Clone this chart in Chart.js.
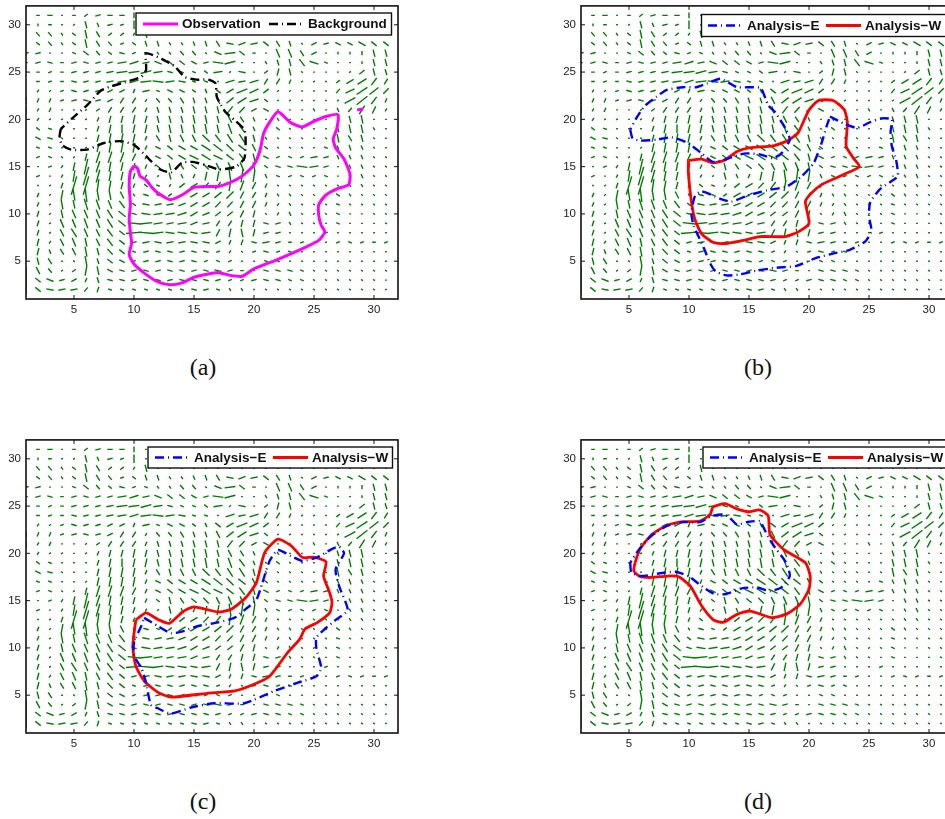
<!DOCTYPE html>
<html>
<head>
<meta charset="utf-8">
<script src="https://cdn.jsdelivr.net/npm/chart.js@4"></script>
<style>
  html, body { margin: 0; padding: 0; background: #fff; overflow: hidden; width: 945px; height: 819px; }
  canvas { position: absolute; }
  .cap { position: absolute; width: 60px; text-align: center; font: 24px "Liberation Serif", serif; color: #111; }
</style>
</head>
<body>
<canvas id="panelA" width="410" height="332" style="left:0;top:-6px"></canvas>
<canvas id="panelB" width="410" height="332" style="left:555px;top:-6px"></canvas>
<canvas id="panelC" width="410" height="332" style="left:0;top:428px"></canvas>
<canvas id="panelD" width="410" height="332" style="left:555px;top:428px"></canvas>
<div class="cap" style="left:173px;top:354px">(a)</div>
<div class="cap" style="left:728px;top:354px">(b)</div>
<div class="cap" style="left:173px;top:788px">(c)</div>
<div class="cap" style="left:728px;top:788px">(d)</div>
<script>
const tickValues = [5, 10, 15, 20, 25, 30];
const gridX = [1,2,3,4,5,6,7,8,9,10,11,12,13,14,15,16,17,18,19,20,21,22,23,24,25,26,27,28,29,30,31];
const gridY = [31,30,29,28,27,26,25,24,23,22,21,20,19,18,17,16,15,14,13,12,11,10,9,8,7,6,5,4,3,2];

// wind components, tenths of a grid cell, one row per gridY
const windU = [
  [0,2,3,1,2,2,3,3,3,0,1,1,1,1,1,1,1,1,1,1,1,1,1,1,1,1,1,1,1,1,1],
  [0,0,2,1,1,1,1,3,2,0,1,1,1,1,1,1,1,1,1,1,1,1,1,1,1,1,1,1,1,1,1],
  [0,2,2,1,2,1,2,2,2,1,1,1,1,1,1,1,1,1,1,1,1,1,1,1,1,1,1,1,1,1,1],
  [0,2,2,1,2,1,2,2,2,2,1,1,1,1,1,1,2,4,4,4,3,2,1,1,3,3,3,3,4,3,3],
  [3,3,1,1,2,3,2,2,3,2,2,1,1,2,2,1,4,6,3,2,1,2,2,2,3,1,0,0,0,1,1],
  [2,3,3,2,3,3,3,3,5,5,4,4,3,3,3,3,6,6,1,1,1,1,1,3,5,2,1,1,0,1,1],
  [1,2,2,2,3,3,3,4,6,6,6,5,3,2,2,2,5,1,4,1,2,1,1,1,1,1,1,1,3,1,1],
  [0,2,2,2,3,3,3,4,5,5,6,6,5,4,2,2,1,5,4,5,2,2,1,1,1,1,2,4,5,3,2],
  [0,1,1,2,3,3,3,3,3,1,4,2,3,3,2,1,3,4,6,5,3,1,1,1,1,1,2,5,6,5,3],
  [0,1,1,2,3,3,3,3,2,2,1,2,2,2,1,1,2,4,5,5,2,1,1,1,1,1,1,6,6,3,1],
  [0,1,1,1,1,1,2,2,2,2,1,1,1,1,1,1,1,3,3,3,3,1,1,1,1,1,1,2,3,2,1],
  [0,1,1,1,1,1,1,1,1,1,1,1,1,1,1,1,1,2,2,1,1,1,1,1,1,1,1,1,1,1,1],
  [0,2,2,1,1,1,1,1,0,1,1,1,1,1,1,1,1,2,3,1,1,2,1,1,1,1,1,1,1,1,1],
  [0,3,3,1,1,1,1,1,1,1,1,2,1,2,2,4,3,3,3,1,1,1,1,1,1,1,1,2,1,1,1],
  [0,2,2,1,1,1,1,1,1,1,1,3,3,4,4,5,5,4,4,2,2,1,1,1,1,2,1,1,1,1,1],
  [0,2,2,1,1,1,2,2,2,2,1,3,3,4,5,5,5,4,3,1,3,2,2,2,4,3,1,1,1,1,1],
  [0,1,2,1,1,2,2,1,1,1,1,2,1,2,3,3,2,2,2,1,2,3,3,6,5,3,1,1,1,1,1],
  [0,2,1,1,1,3,2,1,1,1,1,1,1,1,-1,-1,-1,1,-1,-1,1,2,2,2,2,2,1,1,1,1,1],
  [0,1,1,1,3,3,1,1,1,1,2,2,-1,-3,-4,-3,-3,-1,-2,-2,-1,1,1,1,1,1,1,1,1,1,1],
  [0,1,1,1,-1,-1,-1,-1,-2,-1,3,2,-2,-4,-4,-4,-4,-4,-2,-2,-1,1,1,1,1,1,2,1,1,1,1],
  [0,1,1,-1,-1,-2,-2,-2,-3,-2,4,4,4,-4,-4,-4,-3,-3,-2,-2,-1,-1,1,1,1,1,2,1,1,1,1],
  [0,1,1,-1,-2,-2,-2,-3,-4,-3,5,5,5,-5,-4,-4,-3,-3,-2,-1,1,-1,1,1,-1,1,2,1,1,1,1],
  [0,1,1,-2,-2,-2,-2,-3,-4,7,7,5,4,-5,-4,-4,-2,-2,-1,-1,3,3,1,1,1,1,2,1,1,1,1],
  [0,1,1,-2,-3,-2,-2,-3,-3,9,9,6,5,5,4,-5,-2,-1,1,-1,3,3,1,1,1,2,1,1,1,1,1],
  [0,1,1,-2,-2,-1,-2,-3,-3,3,4,4,4,4,4,-4,-3,-1,-1,3,4,3,2,2,1,1,2,2,2,2,2],
  [0,1,-1,-2,-2,-1,-1,-3,-3,2,3,3,3,3,3,-3,-2,-1,1,2,3,2,2,1,1,1,1,1,1,1,1],
  [0,-1,-2,1,-1,-1,-1,-3,-3,2,3,3,3,3,3,2,2,2,1,1,2,2,1,1,1,1,1,1,1,1,1],
  [0,-2,-2,1,2,1,-1,-3,-3,3,3,3,3,3,3,-3,-4,-3,-2,1,3,3,3,2,1,1,1,1,1,1,1],
  [0,-3,-4,3,3,1,-1,-3,-3,3,3,3,3,3,-3,-3,-3,-2,2,3,3,3,2,2,1,1,1,1,1,1,1],
  [0,-3,-4,4,4,2,1,-2,-2,-2,-2,-2,-2,-2,-3,-3,-2,1,1,1,1,1,1,1,1,1,1,1,1,1,1]
];
const windV = [
  [0,0,0,0,0,2,1,0,0,4,0,0,0,0,0,0,0,0,0,0,0,0,0,0,0,0,0,0,0,0,0],
  [0,2,0,0,1,-5,-3,1,1,6,0,0,0,0,0,0,0,0,0,0,0,0,0,0,0,0,0,0,0,0,0],
  [0,-3,-3,-2,-2,-6,-4,2,2,2,-5,0,0,0,0,0,0,0,0,0,0,0,0,0,0,0,0,0,0,0,0],
  [0,-2,-3,-2,-2,-6,-4,-3,1,-2,-4,-4,-2,-2,-3,-4,-4,-1,2,1,-3,-4,-4,-1,2,1,-2,-2,-3,-3,-3],
  [1,1,0,0,-1,-3,-3,-2,-1,1,-1,-2,-2,-3,-3,-1,-2,1,-3,0,0,-6,-6,-4,2,0,-2,-2,-3,-5,-5],
  [0,1,-1,0,1,-1,1,1,1,2,1,-2,-3,-3,-2,1,-1,2,0,0,-2,-4,-5,-5,-2,-1,0,0,-2,-5,-5],
  [0,0,1,0,1,1,1,1,1,1,2,1,-1,-1,-1,-2,1,1,-1,0,2,5,-5,-1,0,0,0,1,3,-5,-4],
  [0,0,1,0,-1,1,1,1,1,2,1,-1,1,-1,-1,-1,0,2,1,2,4,4,3,1,1,0,2,3,4,5,4],
  [0,2,1,1,-1,1,1,2,2,3,1,-1,-2,-2,-2,-3,-3,3,3,3,3,1,1,0,0,0,3,3,5,5,4],
  [5,3,3,1,1,-1,1,2,4,4,2,-3,-3,-4,-4,-4,-5,4,4,2,-2,0,1,0,0,0,1,4,6,5,3],
  [5,2,3,0,0,1,2,4,4,4,3,-4,-4,-4,-5,-5,-5,5,4,2,-2,0,0,0,-2,0,-3,3,6,5,2],
  [0,2,1,1,0,1,3,5,5,6,5,-5,-5,-5,-6,-6,-5,-5,-4,-3,0,-2,0,0,0,0,-4,-5,-6,0,0],
  [0,-2,-1,0,0,0,4,6,6,6,6,-5,-6,-6,-6,-7,-6,-7,-5,-3,-1,-2,-1,0,0,0,-5,-6,-6,-2,0],
  [0,-2,-1,-1,0,0,5,7,7,6,3,-4,-5,-5,-5,-5,-5,-6,-6,-5,-2,-1,-1,-1,0,-1,-6,-4,-5,-1,0],
  [0,-1,-1,0,0,1,6,7,7,7,3,-2,-3,-3,-3,-4,-5,-5,-4,-5,-2,-1,-1,-1,0,-1,-3,-4,-3,-1,0],
  [0,1,-1,-1,1,5,8,8,7,5,3,-2,-3,-3,-3,-4,-3,-4,-5,-5,-2,1,-1,1,1,1,-3,-3,-3,-1,-1],
  [0,0,1,2,6,11,8,7,6,5,3,-2,-5,-4,-3,-4,-5,-6,-6,-6,-2,-1,-1,-1,1,1,0,-3,-3,-1,-1],
  [0,1,0,2,8,13,9,7,6,4,2,1,-5,-3,-3,-6,-7,-9,-9,-8,-3,-1,1,-1,1,-1,0,-2,-3,-1,-1],
  [0,0,1,4,13,13,9,7,5,3,-2,-1,-2,-3,-3,-4,-5,-8,-7,-5,-3,-1,-1,-1,-1,-1,-1,-2,-2,-1,-1],
  [0,3,1,7,8,10,8,7,5,2,-1,-1,-2,-3,-3,-3,-4,-5,-5,-4,-3,-2,-2,-1,-1,-1,-2,-2,-1,-1,-1],
  [0,3,1,7,6,8,7,6,5,2,-1,1,1,-2,-3,-3,-4,-4,-5,-5,-3,-2,-2,-1,-1,-1,-1,-1,-1,-1,-1],
  [0,4,1,6,6,6,6,6,4,1,-1,1,1,-2,-3,-2,-3,-3,-5,-5,-1,-2,-3,-1,-1,-1,-1,0,0,-1,-1],
  [0,4,1,6,6,7,6,6,4,-1,1,1,1,-1,-2,-1,-4,-4,-5,-5,-1,1,-2,-1,-1,0,-1,0,0,0,-1],
  [0,4,1,5,6,6,5,5,3,1,-1,1,-1,-1,-1,-1,-5,-6,-6,-5,1,1,0,0,0,1,0,0,0,0,0],
  [0,5,2,5,6,6,5,5,3,1,1,-1,1,1,-1,1,-2,-3,-4,-1,1,1,0,1,0,0,1,-1,1,0,1],
  [0,5,3,4,5,7,5,4,3,-1,1,-1,-1,1,-1,1,-1,-2,-1,1,-1,1,-1,0,0,0,0,0,0,0,0],
  [0,5,4,0,1,7,4,3,2,1,1,1,-1,1,-1,1,-1,1,0,0,-1,-1,0,0,0,0,0,0,0,0,0],
  [6,5,3,1,2,7,6,2,1,1,-1,1,-1,-1,1,1,1,-1,0,0,-1,-1,-1,-1,-1,-1,-1,-1,-1,-1,-1],
  [8,3,2,1,2,3,4,1,1,1,-1,-1,1,-1,1,1,-1,-1,1,1,-1,-1,-1,-1,-1,-1,-1,-1,-1,-1,0],
  [7,3,1,1,1,3,4,1,1,1,1,1,1,1,1,-1,1,-2,-2,0,-1,-1,-1,-1,-1,-1,-1,-1,-1,-1,0]
];

const observation = [[10,15.1],[10.3,14.8],[10.5,14],[11,13.6],[11.5,12.8],[12,12.2],[13,11.5],[14,12],[15,12.8],[16,12.9],[17,12.9],[18,13.3],[19,14],[20,15.2],[20.5,16.7],[20.8,18.5],[21.2,19.5],[22,20.8],[23,19.7],[24,19.2],[25,19.8],[26,20.3],[27,20.5],[26.9,19],[26.6,17.9],[26.8,17],[27.5,15.8],[28,14.2],[27.9,13.1],[27,12.7],[26,12],[25.4,11],[25.4,9.8],[25.6,8.8],[25.9,8.1],[25.4,7.2],[24,6.3],[22,5.2],[20,4.2],[19,3.4],[18,3.5],[17,3.8],[16,3.6],[15,3.3],[14,2.7],[13,2.5],[12,2.8],[11,3.6],[10,4.7],[9.6,5.7],[9.8,6.9],[9.7,8],[9.6,9.5],[9.7,11],[9.6,13],[9.7,14.5],[10,15.1]];
const observationSpot = [[28.6,21],[29.1,21.1]];
const background = [[3.9,19],[3.8,18.2],[4,17.3],[4.75,16.8],[6.1,16.8],[7.5,17.5],[8.9,17.7],[10,17.3],[11.1,16],[11.4,15.6],[12.2,14.7],[13.1,14.4],[14,15.4],[14.9,15.5],[15.9,15.2],[17.1,14.7],[18.5,15],[19.2,15.9],[19.3,17.8],[19.2,18.9],[18.4,19.9],[17.6,20.8],[16.9,22.4],[16.8,23.8],[16.2,24.2],[15.2,24.2],[14.2,24.5],[13.4,25.6],[12.3,26.4],[11,27],[11,26],[11,25.2],[10.6,24.5],[9.2,23.9],[8.1,23.5],[7.2,23],[6.1,21.5],[5.2,20.5],[3.9,19]];

const analysisEB1 = [[5.1,18.9],[5.3,18],[5.9,17.75],[7.3,17.85],[8.55,18.1],[9.9,17.5],[11.05,16.4],[12,15.5],[13,15.75],[14,16.2],[14.8,16.4],[15.9,16.3],[17,15.9],[17.7,16.4],[18.4,17.85],[18.1,18.9],[17.2,20.7],[16.6,21.5],[16,23.3],[15.4,23.4],[14,23.4],[13.4,23.8],[12.6,24.3],[11.5,23.8],[10.6,23.4],[9.5,23.4],[8.1,23.1],[7.3,22.4],[6.3,21.4],[5.6,20.1],[5.1,18.9]];
const analysisEB2 = [[21.75,20.3],[23,19.5],[24,19.1],[25.1,19.7],[26,20.1],[26.9,20],[26.8,18.7],[26.9,17.15],[27.25,15.75],[27.4,14],[26.75,13.35],[25.9,12.6],[25.1,11.2],[25,9.75],[25.2,8.2],[24.7,7.1],[23.4,6.2],[22,5.8],[20.6,5.35],[18.95,4.5],[17.3,4.3],[15.6,4],[14.25,3.6],[13.1,3.5],[12.2,3.95],[11.75,4.8],[11.3,6.2],[10.8,7.6],[10.4,8.7],[10.2,10.1],[10.5,11.9],[11.05,12.4],[12.6,11.6],[13.55,11.3],[14.8,11.9],[16.5,12.5],[18.15,12.9],[19.4,14],[20.4,15.4],[21.05,17.5],[21.5,19.4],[21.75,20.3]];
const analysisWB = [[9.95,15.65],[11.05,15.8],[12,15.4],[13,15.7],[14,16.6],[15.1,17],[17,17.2],[18.3,17.8],[19.1,18.6],[20,21],[20.8,22],[22,22],[22.95,21],[23.2,19.6],[23.1,17.15],[23.7,15.9],[24.2,15],[22.85,14.15],[21.05,13.1],[20.2,12.2],[19.7,11.3],[20,9],[19.1,8.1],[18,7.6],[15.9,7.6],[14.5,7.2],[12.9,6.85],[12,7],[11.05,7.9],[10.5,9.4],[10.2,11.3],[9.95,14.3],[9.95,15.65]];

const analysisEC = [[10.85,13.2],[12,12.3],[13.1,11.55],[14.2,11.8],[15.3,12.3],[17,12.7],[18.4,13.2],[19.3,14.1],[20.2,15.1],[20.7,16.9],[21.3,19.2],[22,20.35],[23.1,19.7],[24.05,19.2],[25.3,19.6],[26.4,20.4],[27.1,20.7],[27.5,20],[26.8,18.3],[27.1,16.5],[27.8,14],[26.7,12.85],[25.9,12],[25.2,11.1],[25.2,9.9],[25.6,7.9],[25.2,7],[23.6,6.3],[21.7,5.45],[19.2,4.15],[16.7,4.15],[14.75,3.7],[13.1,3.05],[12,3.6],[11.4,4],[11,6.35],[10.6,7.9],[10,9.15],[10,10.55],[10.6,12.3],[10.85,13.2]];
const analysisWC = [[10.15,12.95],[11,13.7],[12,13],[12.95,12.6],[14.05,13.8],[15,14.35],[17,13.8],[18.1,14.1],[19.3,15.3],[20.2,16.9],[20.9,20.1],[22,21.5],[23.1,20.8],[24.05,19.55],[25,19.6],[26,19.1],[25.8,17.6],[26.3,15.85],[26.5,14.8],[26.3,13.7],[25.3,12.7],[24.25,12],[23.8,10.9],[22.8,9.5],[21.3,7],[20,6.15],[18.4,5.45],[16.1,5.2],[13.1,4.8],[12,5.3],[10.85,6.5],[10.15,8.1],[9.9,10.2],[10.15,12.95]];

const analysisED = [[5.1,19],[5.2,18],[6.05,17.6],[7.6,17.9],[8.85,18.05],[9.95,17.6],[11.2,16.4],[12.15,15.7],[13.1,15.7],[14.4,16.3],[15.65,16.4],[16.75,16],[17.7,16.4],[18.4,17.6],[18.1,19],[16.9,21.1],[16.3,22.5],[15.9,23.4],[14.8,23.3],[14,23.05],[13.4,23.75],[12.85,24.1],[11.9,23.95],[10.9,23.3],[9.5,23.3],[8.15,22.9],[7,22],[6.2,21],[5.6,20],[5.1,19]];
const analysisWD = [[5.5,19],[5.4,18.15],[5.9,17.55],[6.9,17.45],[8.15,17.6],[9.1,17.55],[10.1,16.55],[11.05,14.45],[12,13],[12.85,12.7],[14,13.55],[15.1,13.9],[16.9,13.2],[18.15,13.6],[19.25,14.6],[20,16.2],[20.1,17.6],[19.7,19],[17.9,20.4],[16.75,22],[16.6,23.95],[15.9,24.6],[14.95,24.4],[14,24.7],[13,25.25],[12,24.9],[11.75,24.1],[10.9,23.4],[9.5,23.35],[8.15,22.95],[6.9,22],[5.9,20.4],[5.5,19]];

const quiverScale = 1.5;
const quiverColor = '#007c00';

// every arrow is one short segment centred on its grid point, null breaks the line
function quiverPoints() {
  const pts = [];
  windU.forEach((rowU, r) => {
    rowU.forEach((u, c) => {
      const v = windV[r][c];
      if (u === 0 && v === 0) return;
      const dx = u / 10 * quiverScale / 2;
      const dy = v / 10 * quiverScale / 2;
      pts.push({x: gridX[c] - dx, y: gridY[r] - dy});
      pts.push({x: gridX[c] + dx, y: gridY[r] + dy});
      pts.push({x: null, y: null});
    });
  });
  return pts;
}

const styles = {
  magenta: {color: '#ff00ff', width: 3, dash: []},
  black: {color: '#000000', width: 2.4, dash: [9, 4, 1, 4]},
  blue: {color: '#0000ff', width: 2.4, dash: [9, 4, 1, 4]},
  red: {color: '#ff0000', width: 2.8, dash: []}
};

function contour(pairs, style) {
  return {
    data: pairs.map(p => ({x: p[0], y: p[1]})),
    showLine: true,
    pointRadius: 0,
    borderColor: style.color,
    borderWidth: style.width,
    borderDash: style.dash,
    tension: 0.2,
    order: 1
  };
}

const framePlugin = {
  id: 'frame',
  afterDraw(chart, args, opts) {
    const c = chart.ctx, a = chart.chartArea, sx = chart.scales.x, sy = chart.scales.y;
    c.save();
    c.strokeStyle = '#111';
    c.lineWidth = 1;
    c.beginPath();
    tickValues.forEach(t => {
      const px = sx.getPixelForValue(t), py = sy.getPixelForValue(t);
      c.moveTo(px, a.bottom); c.lineTo(px, a.bottom - 4);
      c.moveTo(px, a.top); c.lineTo(px, a.top + 4);
      c.moveTo(a.left, py); c.lineTo(a.left + 4, py);
      c.moveTo(a.right, py); c.lineTo(a.right - 4, py);
    });
    c.stroke();
    c.lineWidth = 1.6;
    c.strokeRect(a.left, a.top, a.right - a.left, a.bottom - a.top);

    // legend box, same look as the matlab one
    const b = opts.box;
    c.fillStyle = '#fff';
    c.fillRect(b.left, b.top, b.right - b.left, b.bottom - b.top);
    c.lineWidth = 1.4;
    c.strokeRect(b.left, b.top, b.right - b.left, b.bottom - b.top);
    const mid = (b.top + b.bottom) / 2;
    opts.items.forEach(it => {
      c.strokeStyle = it.style.color;
      c.lineWidth = it.style.width;
      c.setLineDash(it.style.dash);
      c.beginPath();
      c.moveTo(it.from, mid);
      c.lineTo(it.from + 35, mid);
      c.stroke();
      c.setLineDash([]);
      c.fillStyle = '#111';
      c.font = 'bold 13.5px "Liberation Sans", Arial, sans-serif';
      c.textBaseline = 'middle';
      c.textAlign = 'left';
      c.fillText(it.label, it.text, mid + 0.5);
    });
    c.restore();
  }
};

function makePanel(id, lines, box, items) {
  const datasets = lines.concat([{
    data: quiverPoints(),
    showLine: true,
    spanGaps: false,
    pointRadius: 0,
    borderColor: quiverColor,
    borderWidth: 1.4,
    order: 2
  }]);
  new Chart(document.getElementById(id), {
    type: 'scatter',
    data: {datasets},
    plugins: [framePlugin],
    options: {
      responsive: false,
      animation: false,
      devicePixelRatio: 1,
      layout: {padding: {top: 6, right: 12, left: 0, bottom: 0}},
      plugins: {
        legend: {display: false},
        tooltip: {enabled: false},
        frame: {box, items}
      },
      scales: {
        x: {
          type: 'linear', min: 1, max: 32,
          grid: {display: false, drawTicks: false},
          border: {display: false},
          afterBuildTicks: s => { s.ticks = tickValues.map(v => ({value: v})); },
          afterFit: s => { s.height = 27; },
          ticks: {color: '#222', padding: 4, maxRotation: 0, font: {family: '"Liberation Sans", Arial, sans-serif', size: 11.5}}
        },
        y: {
          type: 'linear', min: 1, max: 32,
          grid: {display: false, drawTicks: false},
          border: {display: false},
          afterBuildTicks: s => { s.ticks = tickValues.map(v => ({value: v})); },
          afterFit: s => { s.width = 26; },
          ticks: {color: '#222', padding: 5, font: {family: '"Liberation Sans", Arial, sans-serif', size: 11.5}}
        }
      }
    }
  });
}

const labelObs = 'Observation', labelBg = 'Background', labelE = 'Analysis\u2212E', labelW = 'Analysis\u2212W';

makePanel('panelA',
  [contour(observation, styles.magenta), contour(observationSpot, styles.magenta), contour(background, styles.black)],
  {left: 136, top: 19, right: 391.5, bottom: 41},
  [{label: labelObs, style: styles.magenta, from: 143, text: 182},
   {label: labelBg, style: styles.black, from: 269, text: 308}]);

makePanel('panelB',
  [contour(analysisEB1, styles.blue), contour(analysisEB2, styles.blue), contour(analysisWB, styles.red)],
  {left: 146.5, top: 20.5, right: 420, bottom: 42.5},
  [{label: labelE, style: styles.blue, from: 153, text: 192},
   {label: labelW, style: styles.red, from: 271, text: 310}]);

makePanel('panelC',
  [contour(analysisEC, styles.blue), contour(analysisWC, styles.red)],
  {left: 148, top: 19, right: 392.5, bottom: 40},
  [{label: labelE, style: styles.blue, from: 155, text: 194},
   {label: labelW, style: styles.red, from: 273, text: 312}]);

makePanel('panelD',
  [contour(analysisED, styles.blue), contour(analysisWD, styles.red)],
  {left: 148, top: 19, right: 420, bottom: 40},
  [{label: labelE, style: styles.blue, from: 155, text: 194},
   {label: labelW, style: styles.red, from: 273, text: 312}]);
</script>
</body>
</html>
